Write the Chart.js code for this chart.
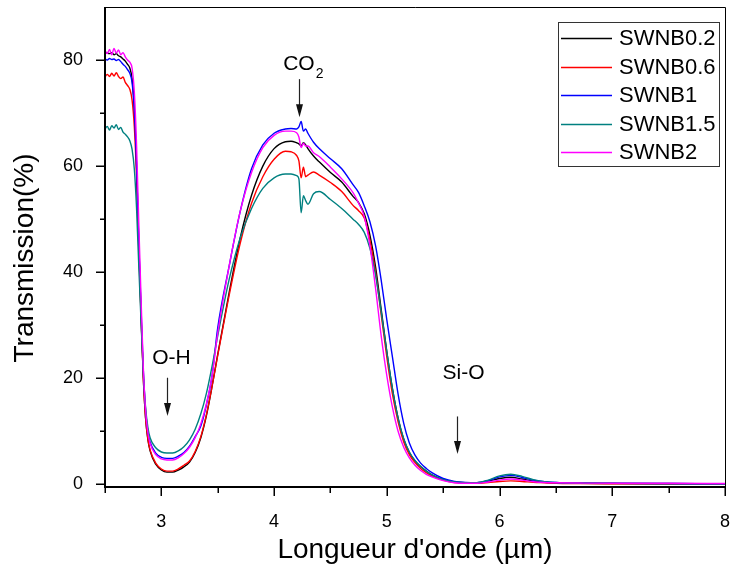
<!DOCTYPE html>
<html>
<head>
<meta charset="utf-8">
<script src="https://cdn.jsdelivr.net/npm/chart.js@4.4.1/dist/chart.umd.min.js"></script>
<style>
  html, body { margin: 0; padding: 0; background: #fff; }
  #wrap { width: 731px; height: 575px; position: relative; }
</style>
</head>
<body>
<div id="wrap"><canvas id="chart"></canvas></div>
<script>
  // Wavelength (µm)
  const wavelength = [
    2.50, 2.52, 2.54, 2.56, 2.58, 2.60, 2.62, 2.64, 2.66, 2.68, 2.70,
    2.72, 2.74, 2.76, 2.78, 2.80, 2.82, 2.84, 2.86, 2.88, 2.90,
    2.95, 3.00, 3.05, 3.10, 3.15, 3.20, 3.25, 3.30, 3.35, 3.40, 3.45, 3.50,
    3.60, 3.70, 3.80, 3.90, 4.00, 4.10,
    4.15, 4.20, 4.22, 4.24, 4.26, 4.28, 4.30, 4.35, 4.40,
    4.50, 4.60, 4.70, 4.75,
    4.80, 4.85, 4.90, 4.95, 5.00, 5.05, 5.10, 5.15, 5.20, 5.25, 5.30, 5.35, 5.40,
    5.50, 5.60, 5.70, 5.80, 5.90, 6.00, 6.10, 6.20, 6.30, 6.40, 6.50, 6.70, 7.00, 7.50, 8.00
  ];

  // Transmission (%) per sample
  const swnb02 = [
    81.5, 81.3, 81.2, 81.4, 81.0, 81.2, 80.8, 80.6, 80.2, 79.8, 79.2,
    78.5, 76.5, 71.0, 60.0, 45.0, 32.0, 20.0, 12.5, 8.5, 6.3,
    3.8, 2.7, 2.3, 2.3, 2.7, 3.3, 4.2, 6.0, 8.8, 13.0, 18.5, 24.5,
    36.0, 46.5, 54.5, 60.0, 63.3, 64.6,
    64.7, 64.4, 64.2, 63.8, 64.4, 64.0, 63.3, 61.9, 60.8,
    58.8, 57.0, 54.3, 53.1,
    51.0, 47.0, 41.0, 33.0, 25.0, 18.0, 12.5, 8.5, 6.0, 4.4, 3.3, 2.5, 1.8,
    0.9, 0.45, 0.3, 0.3, 0.6, 1.1, 1.35, 1.0, 0.6, 0.4, 0.3, 0.2, 0.15, 0.1, 0.1
  ];
  const swnb06 = [
    76.8, 77.3, 76.9, 77.5, 77.0, 77.6, 76.9, 76.5, 76.8, 75.8, 75.2,
    74.5, 72.5, 67.5, 58.0, 44.0, 31.5, 20.0, 12.5, 8.6, 6.5,
    4.0, 2.9, 2.5, 2.5, 2.9, 3.6, 4.4, 6.2, 9.0, 13.2, 18.5, 24.3,
    35.5, 45.5, 53.0, 58.0, 61.3, 62.8,
    62.7, 62.0, 61.0, 57.8, 59.8, 58.0, 58.3, 58.9, 58.3,
    56.9, 55.2, 52.6, 51.6,
    50.2, 46.0, 40.0, 32.0, 24.0, 17.0, 11.8, 8.0, 5.6, 4.1, 3.0, 2.2, 1.6,
    0.8, 0.35, 0.25, 0.2, 0.35, 0.55, 0.65, 0.55, 0.4, 0.3, 0.2, 0.15, 0.1, 0.1, 0.1
  ];
  const swnb1 = [
    80.2, 80.0, 80.3, 80.1, 80.2, 79.9, 80.1, 79.7, 79.2, 78.8, 78.2,
    77.5, 75.8, 70.5, 60.0, 45.5, 33.0, 21.5, 14.0, 10.0, 8.0,
    5.9, 5.1, 4.9, 4.9, 5.3, 6.0, 7.2, 9.0, 11.0, 15.0, 20.5, 29.5,
    41.0, 51.5, 59.5, 64.0, 66.2, 67.0,
    67.1, 67.0, 67.4, 68.4, 66.6, 67.0, 66.2, 64.5, 63.3,
    61.4, 59.5, 56.5, 55.0,
    52.5, 49.5, 45.0, 38.5, 31.0, 24.0, 17.0, 11.5, 7.8, 5.5, 4.0, 3.0, 2.2,
    1.1, 0.55, 0.35, 0.3, 0.7, 1.4, 1.7, 1.3, 0.8, 0.5, 0.35, 0.25, 0.2, 0.15, 0.1
  ];
  const swnb15 = [
    67.0, 67.5, 66.8, 67.6, 67.2, 67.8, 66.9, 67.3, 66.4, 66.0, 65.5,
    64.8, 63.2, 59.5, 52.0, 41.0, 30.5, 21.0, 14.5, 10.8, 8.8,
    6.9, 6.1, 5.9, 5.9, 6.3, 7.1, 8.4, 10.4, 13.3, 17.2, 22.3, 28.0,
    38.5, 46.5, 52.0, 55.8, 57.8, 58.5,
    58.5, 58.2, 57.6, 51.2, 54.4, 53.5, 52.8, 54.8, 55.2,
    53.7, 52.0, 50.0, 49.0,
    47.5, 44.5, 39.5, 32.5, 25.0, 18.0, 12.5, 8.6, 6.1, 4.5, 3.4, 2.5, 1.8,
    0.9, 0.45, 0.3, 0.3, 0.8, 1.6, 1.9, 1.5, 0.9, 0.5, 0.35, 0.25, 0.2, 0.15, 0.1
  ];
  const swnb2 = [
    81.8, 81.2, 82.0, 81.0, 82.2, 81.3, 81.9, 81.0, 81.4, 80.6, 80.0,
    79.6, 78.5, 74.0, 64.0, 49.0, 35.0, 22.0, 14.0, 9.8, 7.7,
    5.6, 4.8, 4.6, 4.6, 5.0, 5.8, 7.0, 8.8, 11.4, 15.2, 20.5, 28.5,
    41.0, 51.5, 58.8, 63.5, 65.8, 66.6,
    66.6, 66.3, 65.5, 63.5, 64.3, 63.8, 63.8, 62.5, 61.8,
    59.8, 57.6, 55.0, 53.0,
    50.5, 45.0, 37.0, 28.0, 20.5, 14.5, 10.0, 7.0, 5.0, 3.6, 2.6, 1.9, 1.4,
    0.7, 0.3, 0.2, 0.2, 0.45, 0.8, 1.0, 0.8, 0.5, 0.35, 0.3, 0.25, 0.2, 0.2, 0.15
  ];

  const seriesNames = ['SWNB0.2', 'SWNB0.6', 'SWNB1', 'SWNB1.5', 'SWNB2'];
  const seriesValues = [swnb02, swnb06, swnb1, swnb15, swnb2];
  const seriesColors = ['#000000', '#ff0000', '#0000ff', '#008080', '#ff00ff'];

  const xTickLabels = [3, 4, 5, 6, 7, 8];
  const yTickLabels = [0, 20, 40, 60, 80];

  // Band labels with arrows (data coordinates)
  const bands = [
    { text: 'CO', sub: '2', x: 4.22, yText: 78.2, yTop: 76.4, yTip: 69.2 },
    { text: 'O-H', sub: '', x: 3.05, xText: 3.09, yText: 22.6, yTop: 20.1, yTip: 12.9 },
    { text: 'Si-O', sub: '', x: 5.62, xText: 5.68, yText: 19.8, yTop: 12.8, yTip: 5.7 }
  ];

  const FONT = '"Liberation Sans", Arial, Helvetica, sans-serif';

  // Origin-style frame, ticks, legend, annotations and axis titles
  const originDecor = {
    id: 'originDecor',
    afterDraw(chart) {
      const { ctx, chartArea: a, scales: { x, y } } = chart;
      ctx.save();
      ctx.strokeStyle = '#000';

      // top and right frame
      ctx.lineWidth = 1;
      ctx.beginPath();
      ctx.moveTo(a.left, a.top + 0.5);
      ctx.lineTo(a.right + 0.5, a.top + 0.5);
      ctx.lineTo(a.right + 0.5, a.bottom);
      ctx.stroke();

      // left and bottom axes
      ctx.lineWidth = 2;
      ctx.beginPath();
      ctx.moveTo(a.left, a.top);
      ctx.lineTo(a.left, a.bottom);
      ctx.lineTo(a.right + 1, a.bottom);
      ctx.stroke();

      // x ticks (major every 1, minor every 0.5)
      ctx.lineWidth = 1.5;
      ctx.beginPath();
      for (let v = 2.5; v <= 8.001; v += 0.5) {
        const px = Math.round(x.getPixelForValue(v)) + 0.25;
        const len = Number.isInteger(Math.round(v * 100) / 100) ? 9 : 6;
        ctx.moveTo(px, a.bottom);
        ctx.lineTo(px, a.bottom + len);
      }
      // y ticks (major every 20, minor every 10)
      for (let v = 0; v <= 80; v += 10) {
        const py = Math.round(y.getPixelForValue(v)) + 0.25;
        const len = v % 20 === 0 ? 9 : 5;
        ctx.moveTo(a.left, py);
        ctx.lineTo(a.left - len, py);
      }
      ctx.stroke();

      // legend box
      const lx = 558, ly = 22, lw = 161, lh = 144;
      ctx.lineWidth = 1;
      ctx.strokeStyle = '#333';
      ctx.strokeRect(lx + 0.5, ly + 0.5, lw, lh);
      ctx.font = '22px ' + FONT;
      ctx.textBaseline = 'middle';
      ctx.textAlign = 'left';
      seriesNames.forEach((name, i) => {
        const rowY = 38 + i * 28.5;
        ctx.strokeStyle = seriesColors[i];
        ctx.lineWidth = 1.3;
        ctx.beginPath();
        ctx.moveTo(561, Math.round(rowY) + 0.5);
        ctx.lineTo(612, Math.round(rowY) + 0.5);
        ctx.stroke();
        ctx.fillStyle = '#000';
        ctx.fillText(name, 619, rowY + 1);
      });

      // band annotations
      ctx.strokeStyle = '#222';
      bands.forEach(b => {
        const ax = Math.round(x.getPixelForValue(b.x)) + 0.5;
        const top = y.getPixelForValue(b.yTop);
        const tip = y.getPixelForValue(b.yTip);
        ctx.lineWidth = 1.2;
        ctx.beginPath();
        ctx.moveTo(ax, top);
        ctx.lineTo(ax, tip - 10);
        ctx.stroke();
        ctx.fillStyle = '#111';
        ctx.beginPath();
        ctx.moveTo(ax - 3.5, tip - 13);
        ctx.lineTo(ax + 3.5, tip - 13);
        ctx.lineTo(ax, tip);
        ctx.closePath();
        ctx.fill();

        ctx.fillStyle = '#000';
        ctx.textBaseline = 'alphabetic';
        ctx.textAlign = 'left';
        const tx = x.getPixelForValue(b.xText !== undefined ? b.xText : b.x);
        const ty = y.getPixelForValue(b.yText);
        ctx.font = '21px ' + FONT;
        const mainW = ctx.measureText(b.text).width;
        const startX = tx - mainW / 2;
        ctx.fillText(b.text, startX, ty);
        if (b.sub) {
          ctx.font = '14px ' + FONT;
          ctx.fillText(b.sub, startX + mainW + 1, ty + 8);
        }
      });

      // axis titles
      ctx.fillStyle = '#000';
      ctx.font = '28px ' + FONT;
      ctx.textAlign = 'center';
      ctx.textBaseline = 'middle';
      ctx.fillText("Longueur d'onde (µm)", (a.left + a.right) / 2, 550);
      ctx.save();
      ctx.translate(25, 258);
      ctx.rotate(-Math.PI / 2);
      ctx.fillText('Transmission(%)', 0, 0);
      ctx.restore();

      ctx.restore();
    }
  };

  const datasets = seriesNames.map((name, i) => ({
    label: name,
    data: wavelength.map((w, j) => ({ x: w, y: seriesValues[i][j] })),
    borderColor: seriesColors[i],
    backgroundColor: seriesColors[i],
    borderWidth: 1.4,
    pointRadius: 0,
    fill: false,
    cubicInterpolationMode: 'monotone',
    order: seriesNames.length - i
  }));

  // keep the plot box fixed: no extra room for overhanging tick labels
  function fixX(s) {
    s.height = 88;
    s.paddingLeft = 0;
    s.paddingRight = 0;
  }
  function fixY(s) {
    s.width = 105;
    s.paddingTop = 0;
    s.paddingBottom = 0;
  }

  new Chart(document.getElementById('chart'), {
    type: 'line',
    data: { datasets: datasets },
    options: {
      responsive: true,
      maintainAspectRatio: false,
      animation: false,
      layout: { padding: { top: 7, right: 6, left: 0, bottom: 0 } },
      plugins: {
        legend: { display: false },
        tooltip: { enabled: false }
      },
      scales: {
        x: {
          type: 'linear',
          min: 2.5,
          max: 8,
          afterBuildTicks: s => { s.ticks = xTickLabels.map(v => ({ value: v })); },
          afterFit: fixX,
          grid: { display: false },
          border: { display: false },
          ticks: {
            autoSkip: false,
            maxRotation: 0,
            padding: 16,
            color: '#000',
            font: { family: FONT, size: 18 }
          }
        },
        y: {
          type: 'linear',
          min: -0.5,
          max: 90,
          afterBuildTicks: s => { s.ticks = yTickLabels.map(v => ({ value: v })); },
          afterFit: fixY,
          grid: { display: false },
          border: { display: false },
          ticks: {
            autoSkip: false,
            padding: 14,
            color: '#000',
            font: { family: FONT, size: 18 }
          }
        }
      }
    },
    plugins: [originDecor]
  });
</script>
</body>
</html>
